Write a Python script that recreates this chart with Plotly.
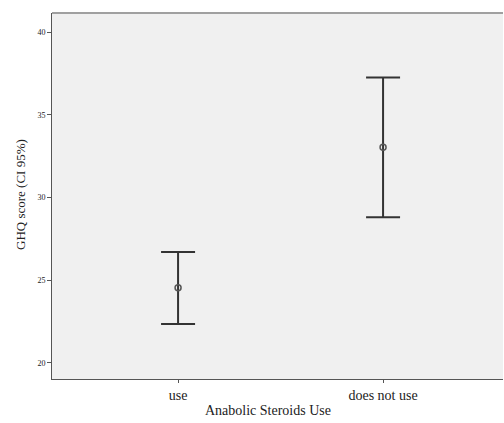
import plotly.graph_objects as go

categories = ["use", "does not use"]
means = [24.55, 33.03]
ci_upper = [26.7, 37.25]
ci_lower = [22.35, 28.8]
y_ticks = [20, 25, 30, 35, 40]

err_plus = [u - m for u, m in zip(ci_upper, means)]
err_minus = [m - l for m, l in zip(means, ci_lower)]

fig = go.Figure()
fig.add_trace(go.Scatter(
    x=[0, 1], y=means, mode="markers",
    marker=dict(symbol="circle-open", size=6, color="#555555", line=dict(width=1.5)),
    error_y=dict(type="data", symmetric=False, array=err_plus, arrayminus=err_minus,
                 color="#333333", thickness=2, width=17),
    showlegend=False,
))

fig.update_layout(
    width=504, height=423,
    margin=dict(l=52, r=1, t=13, b=44),
    paper_bgcolor="white",
    plot_bgcolor="#f0f0f0",
    font=dict(family="Liberation Serif, DejaVu Serif, serif", color="#222222"),
    xaxis=dict(
        range=[-0.615, 1.585], tickvals=[0, 1], ticktext=categories,
        showgrid=False, zeroline=False, showline=True, linecolor="#555555", linewidth=1,
        mirror=False, ticks="outside", ticklen=3, tickcolor="#555555",
        tickfont=dict(size=14), automargin=False,
    ),
    yaxis=dict(
        range=[19.03, 41.15], tickvals=y_ticks,
        showgrid=False, zeroline=False, showline=True, linecolor="#555555", linewidth=1,
        ticks="outside", ticklen=4, tickcolor="#555555",
        tickfont=dict(size=8), automargin=False,
    ),
    shapes=[
        dict(type="line", xref="paper", yref="paper", x0=0, x1=1, y0=1, y1=1,
             line=dict(color="#a0a0a0", width=2)),
    ],
    annotations=[
        dict(text="Anabolic Steroids Use", xref="paper", yref="paper",
             x=(268 - 52) / 451, y=-(410 - 379) / 366, xanchor="center", yanchor="middle",
             showarrow=False, font=dict(size=14)),
        dict(text="GHQ score (CI 95%)", xref="paper", yref="paper",
             x=-(52 - 20) / 451, y=(379 - 195) / 366, xanchor="center", yanchor="middle",
             textangle=-90, showarrow=False, font=dict(size=13)),
    ],
)

fig.write_html("out.html", config={"displayModeBar": False},
               post_script="document.body.style.margin='0';document.body.style.overflow='hidden';")
